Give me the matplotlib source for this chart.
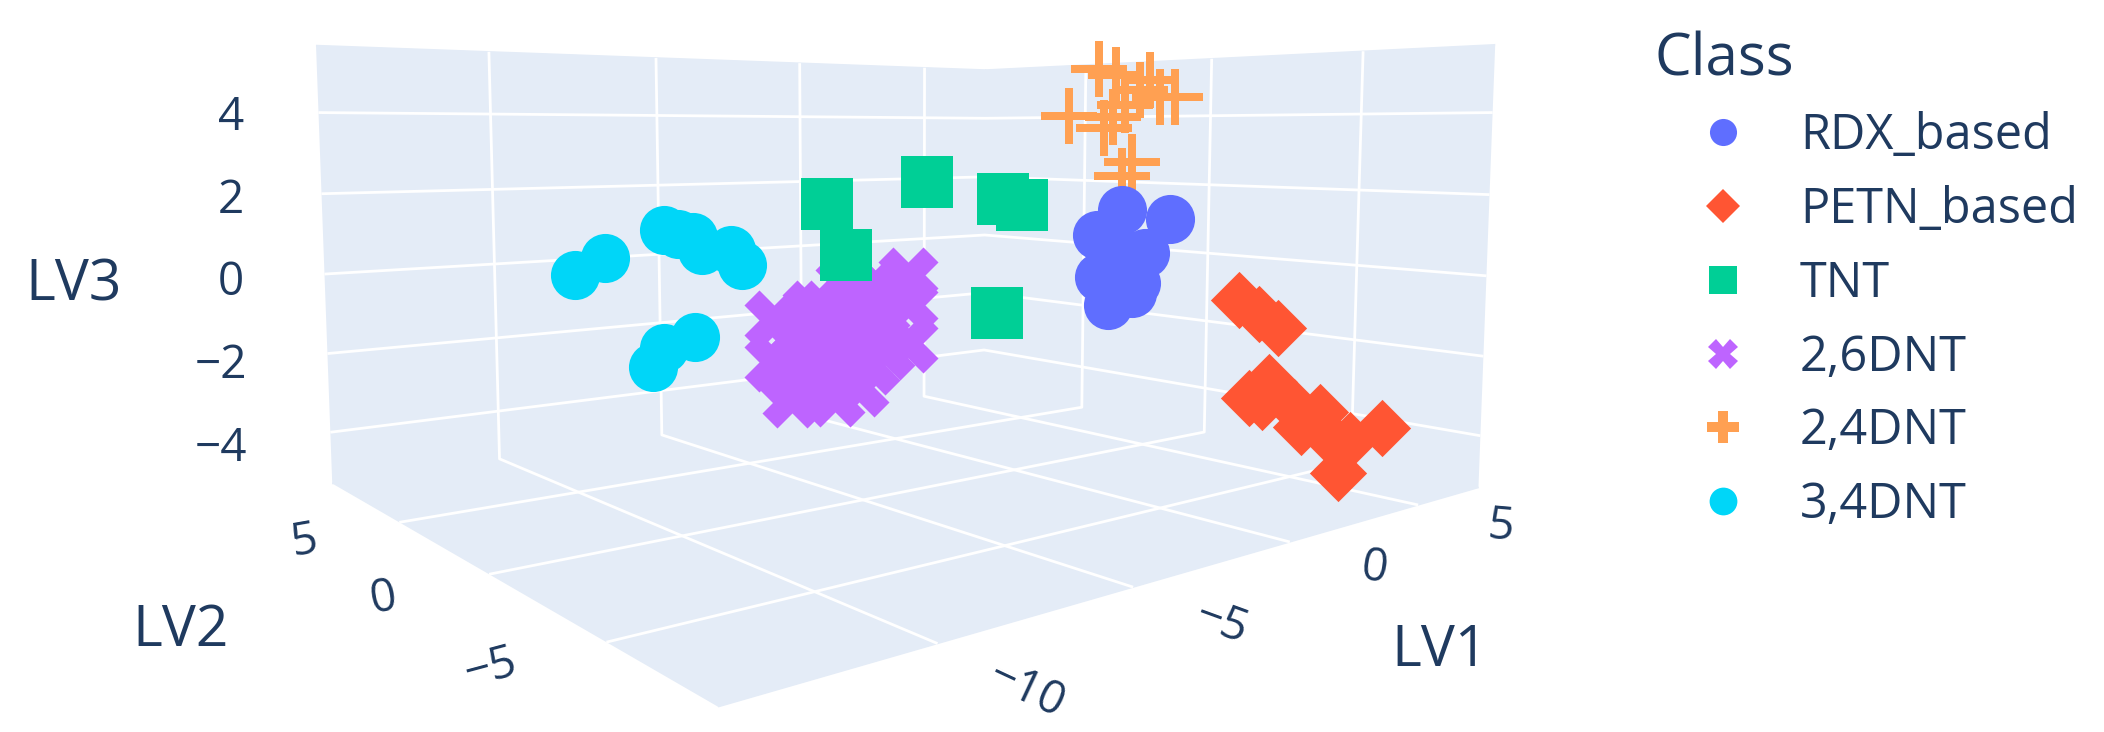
import numpy as np
import matplotlib
matplotlib.use("Agg")
import matplotlib.pyplot as plt
from matplotlib.lines import Line2D
from matplotlib.path import Path

plt.rcParams['font.family'] = ['Open Sans', 'DejaVu Sans']
plt.rcParams['grid.color'] = 'white'
plt.rcParams['grid.linewidth'] = 2.0

# values (depth along LV2 is an estimate)
rdx_lv1 = [2.69, 5.08, 1.97, 4.3, 1.64, 3.04, 3.39, 3.69, 2.1, 2.79]
rdx_lv2 = [-1.2, -0.8, -1.0, -0.6, -1.4, -0.9, -1.1, -0.7, -1.3, -1.0]
rdx_lv3 = [1.48, 1.14, 0.84, 0.22, -0.21, 0.3, -0.51, -0.83, -0.99, -0.21]

petn_lv1 = [1.75, 2.25, 2.74, 2.71, 2.34, 2.05, 4.95, 3.58, 6.93, 5.8, 5.65, 5.83, 4.31]
petn_lv2 = [-5.8, -6.0, -6.2, -6.0, -5.7, -6.3, -5.9, -6.1, -6.4, -5.6, -6.0, -6.2, -5.8]
petn_lv3 = [-0.43, -0.78, -1.13, -2.46, -2.85, -2.83, -3.48, -3.16, -4.07, -4.28, -5.13, -4.27, -3.8]

tnt_lv1 = [-3.71, -3.55, -0.49, 2.14, 3.45, 1.66]
tnt_lv2 = [3.2, 2.6, 3.0, 2.8, 3.4, 2.5]
tnt_lv3 = [1.67, 0.37, 2.17, 1.64, 1.41, -1.53]

dnt26_lv1 = [-2.63, -7.0, -2.71, -3.03, -6.16, -6.94, -5.09, -4.66, -6.14, -5.28, -5.08, -5.39, -4.39, -4.63,
             -4.24, -5.02, -6.06, -3.77, -4.63, -4.16, -5.68, -6.28, -4.85, -3.77, -5.54, -3.53, -5.98]
dnt26_lv2 = [1.2, 0.8, 1.1, 0.7, 1.3, 0.9, 1.0, 0.6, 1.4, 1.1, 0.8, 1.2, 0.9, 1.0,
             0.7, 1.3, 1.1, 0.9, 1.2, 0.8, 1.0, 1.2, 0.9, 1.1, 0.8, 1.0, 0.7]
dnt26_lv3 = [-0.15, -0.86, -0.8, -1.75, -2.88, -1.87, -2.93, -2.68, -1.48, -0.78, -1.5, -1.03, -0.58, -2.06,
             -1.32, -2.31, -1.93, -0.88, -0.84, -2.21, -1.59, -2.29, -0.18, -0.27, -2.56, -1.92, -0.69]

dnt24_lv1 = [3.34, 3.47, 5.18, 5.04, 6.37, 2.3, 3.49, 3.24, 4.05, 4.31, 4.78, 3.85]
dnt24_lv2 = [0.3, -0.2, 0.1, -0.4, 0.2, 0.4, -0.1, 0.0, -0.3, 0.3, 0.1, -0.2]
dnt24_lv3 = [5.24, 5.06, 4.97, 4.49, 4.52, 3.96, 3.93, 3.64, 2.71, 2.31, 4.69, 4.26]

dnt34_lv1 = [-10.36, -9.78, -7.84, -7.55, -7.25, -7.23, -6.08, -6.01, -7.05, -8.17, -8.43]
dnt34_lv2 = [4.2, 3.8, 4.4, 4.2, 4.0, 3.6, 4.1, 3.7, 4.3, 3.9, 4.0]
dnt34_lv3 = [0.15, 0.55, 1.1, 1.01, 0.92, 0.62, 0.53, 0.17, -1.64, -1.77, -2.23]

lv1_ticks = [-10, -5, 0, 5]
lv2_ticks = [-5, 0, 5]
lv3_ticks = [-4, -2, 0, 2, 4]
lv1_labels = ['\u221210', '\u22125', '0', '5']
lv2_labels = ['\u22125', '0', '5']
lv3_labels = ['\u22124', '\u22122', '0', '2', '4']

W, H = 2104, 732
S = 1400
TXT = '#1f3a5f'
PANE = '#E4ECF7'

fig = plt.figure(figsize=(21.04, 7.32), dpi=100)
ax = fig.add_axes([(W/2 - S/2 - 168.65)/W, (H/2 - S/2 + 78.66)/H, S/W, S/H], projection='3d', computed_zorder=False)
ax.view_init(elev=5.3425, azim=-128.9139, roll=-0.0103)
ax.set_proj_type('persp', focal_length=0.1918)
ax.set_box_aspect((2.022, 1.679, 1.0), zoom=0.8625)
ax.set_xlim3d(-14.4387, 7.7092)
ax.set_ylim3d(-8.6627, 9.6998)
ax.set_zlim3d(-5.3146, 5.6391)

ax.set_xticks(lv1_ticks)
ax.set_yticks(lv2_ticks)
ax.set_zticks(lv3_ticks)
ax.set_xticklabels([''] * len(lv1_ticks))
ax.set_yticklabels([''] * len(lv2_ticks))
ax.set_zticklabels([''] * len(lv3_ticks))
for a in (ax.xaxis, ax.yaxis, ax.zaxis):
    a.set_pane_color(PANE)
    a.pane.set_edgecolor(PANE)
    a.line.set_color((0, 0, 0, 0))
    a._axinfo['tick']['inward_factor'] = 0
    a._axinfo['tick']['outward_factor'] = 0
ax.tick_params(color=(0, 0, 0, 0))

# thin plus, the 3d marker is slimmer than the legend one
plus = Path([(-.15, -1), (.15, -1), (.15, -.15), (1, -.15), (1, .15), (.15, .15), (.15, 1), (-.15, 1),
             (-.15, .15), (-1, .15), (-1, -.15), (-.15, -.15), (-.15, -1)], closed=True)

ax.scatter(dnt26_lv1, dnt26_lv2, dnt26_lv3, marker='X', s=1870, c='#BE64FF', linewidths=0, depthshade=False, zorder=1)
ax.scatter(tnt_lv1, tnt_lv2, tnt_lv3, marker='s', s=1400, c='#00CF96', linewidths=0, depthshade=False, zorder=2)
ax.scatter(dnt34_lv1, dnt34_lv2, dnt34_lv3, marker='o', s=1250, c='#00D6F8', linewidths=0, depthshade=False, zorder=3)
ax.scatter(dnt24_lv1, dnt24_lv2, dnt24_lv3, marker=plus, s=1625, c='#FFA052', linewidths=0, depthshade=False, zorder=4)
ax.scatter(rdx_lv1, rdx_lv2, rdx_lv3, marker='o', s=1250, c='#5F6EFF', linewidths=0, depthshade=False, zorder=5)
ax.scatter(petn_lv1, petn_lv2, petn_lv3, marker='D', s=850, c='#FF5533', linewidths=0, depthshade=False, zorder=6)


def put(x, y, s, size=33, rot=0):
    fig.text(x/W, 1 - (y + 4)/H, s, fontsize=size, color=TXT, ha='center', va='center',
             rotation=rot, rotation_mode='anchor')


for s, x, y in zip(lv3_labels, [221, 221, 231, 231, 231], [445, 362, 279, 197, 114]):
    put(x, y, s)
for s, x, y, r in zip(lv2_labels, [491, 384, 304], [665, 595, 538], [15, 10, 10]):
    put(x, y, s, rot=r)
for s, x, y, r in zip(lv1_labels, [1026, 1221, 1374, 1500], [687, 620, 565, 523], [-25, -20, -8, -5]):
    put(x, y, s, rot=r)
put(74, 282, 'LV3', 41)
put(181, 628, 'LV2', 41)
put(1440, 648, 'LV1', 41)

handles = [Line2D([], [], ls='', marker='o', ms=19.5, color='#5F6EFF', mew=0, label='RDX_based'),
           Line2D([], [], ls='', marker='D', ms=17, color='#FF5533', mew=0, label='PETN_based'),
           Line2D([], [], ls='', marker='s', ms=20, color='#00CF96', mew=0, label='TNT'),
           Line2D([], [], ls='', marker='X', ms=21, color='#BE64FF', mew=0, label='2,6DNT'),
           Line2D([], [], ls='', marker='P', ms=23, color='#FFA052', mew=0, label='2,4DNT'),
           Line2D([], [], ls='', marker='o', ms=20, color='#00D6F8', mew=0, label='3,4DNT')]
leg = fig.legend(handles=handles, title='Class', loc='upper left', bbox_to_anchor=(1655/W, 1 - 31/H), frameon=False,
                 fontsize=35, title_fontproperties={'size': 42}, labelcolor=TXT, alignment='left', borderpad=0,
                 borderaxespad=0, handlelength=2.8, handletextpad=0.18, labelspacing=0.50)
leg.get_title().set_color(TXT)
leg._legend_box.sep = 16

fig.savefig("out.png")
